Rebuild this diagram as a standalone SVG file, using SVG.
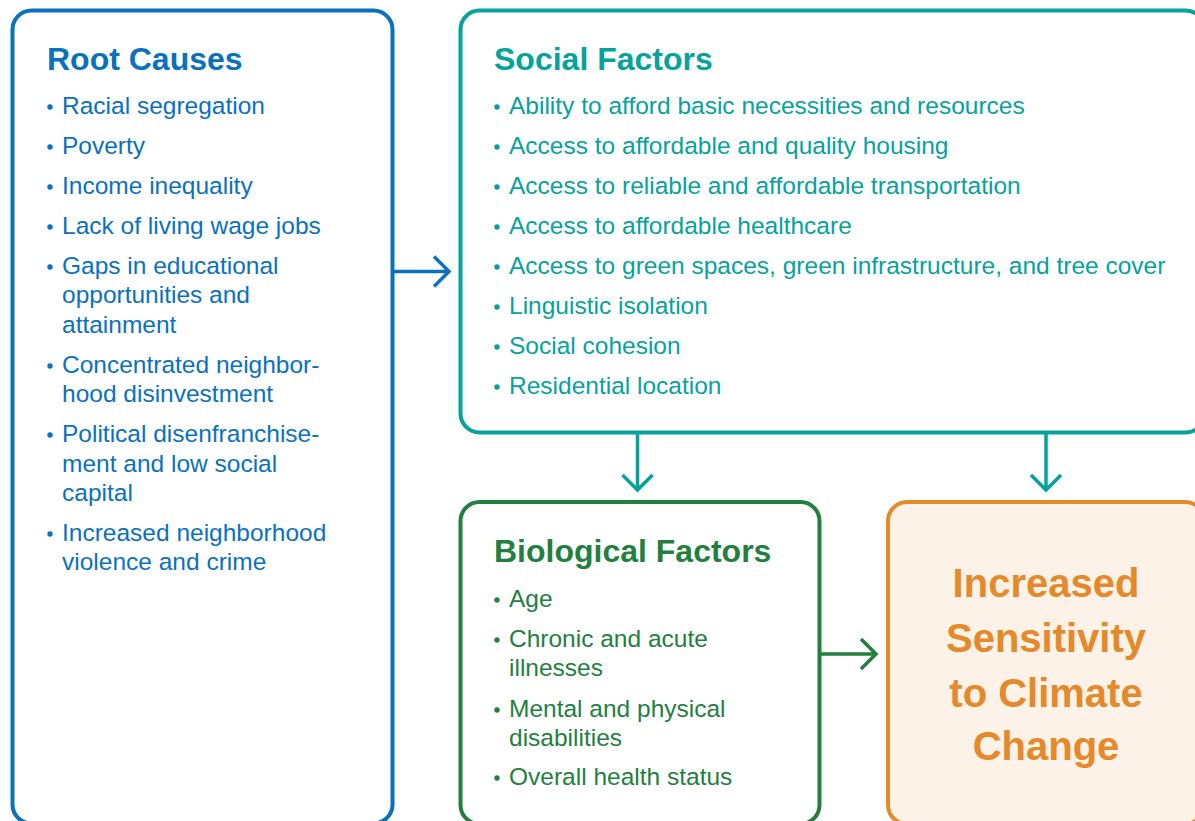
<svg xmlns="http://www.w3.org/2000/svg" width="1195" height="821" viewBox="0 0 1195 821">
<style>
text{font-family:"Liberation Sans",Arial,sans-serif;}
.t{font-size:32px;font-weight:bold;}
.b{font-size:24.5px;}
.box{fill:#fff;stroke-width:4;}
.blue{fill:#0A71BE;}
.teal{fill:#06A29C;}
.green{fill:#237F3E;}
.orange{fill:#E5892B;}
.ar{fill:none;stroke-width:3.5;stroke-linecap:butt;stroke-linejoin:miter;}
</style>
<rect width="1195" height="821" fill="#fff"/>
<g id="root-causes">
<rect class="box" x="12.5" y="10.5" width="380" height="813" rx="19" stroke="#0A71BE"/>
<text class="t blue" x="47" y="70">Root Causes</text>
<g class="blue">
<circle cx="50" cy="107" r="2.7"/><circle cx="50" cy="147" r="2.7"/><circle cx="50" cy="187" r="2.7"/><circle cx="50" cy="227" r="2.7"/><circle cx="50" cy="267" r="2.7"/><circle cx="50" cy="366" r="2.7"/><circle cx="50" cy="435" r="2.7"/><circle cx="50" cy="534" r="2.7"/>
</g>
<g class="b blue">
<text x="62" y="114">Racial segregation</text>
<text x="62" y="154">Poverty</text>
<text x="62" y="194">Income inequality</text>
<text x="62" y="234">Lack of living wage jobs</text>
<text x="62" y="274">Gaps in educational</text>
<text x="62" y="303">opportunities and</text>
<text x="62" y="333">attainment</text>
<text x="62" y="373">Concentrated neighbor-</text>
<text x="62" y="402">hood disinvestment</text>
<text x="62" y="442">Political disenfranchise-</text>
<text x="62" y="472">ment and low social</text>
<text x="62" y="501">capital</text>
<text x="62" y="541">Increased neighborhood</text>
<text x="62" y="570">violence and crime</text>
</g>
</g>
<g id="social-factors">
<rect class="box" x="460.5" y="10.5" width="744" height="422" rx="19" stroke="#06A29C"/>
<text class="t teal" x="494" y="70">Social Factors</text>
<g class="teal">
<circle cx="497" cy="107" r="2.7"/><circle cx="497" cy="147" r="2.7"/><circle cx="497" cy="187" r="2.7"/><circle cx="497" cy="227" r="2.7"/><circle cx="497" cy="267" r="2.7"/><circle cx="497" cy="307" r="2.7"/><circle cx="497" cy="347" r="2.7"/><circle cx="497" cy="387" r="2.7"/>
</g>
<g class="b teal">
<text x="509" y="114">Ability to afford basic necessities and resources</text>
<text x="509" y="154">Access to affordable and quality housing</text>
<text x="509" y="194">Access to reliable and affordable transportation</text>
<text x="509" y="234">Access to affordable healthcare</text>
<text x="509" y="274">Access to green spaces, green infrastructure, and tree cover</text>
<text x="509" y="314">Linguistic isolation</text>
<text x="509" y="354">Social cohesion</text>
<text x="509" y="394">Residential location</text>
</g>
</g>
<g id="biological-factors">
<rect class="box" x="460.5" y="502" width="359" height="322" rx="19" stroke="#237F3E"/>
<text class="t green" x="494" y="562">Biological Factors</text>
<g class="green">
<circle cx="497" cy="600" r="2.7"/><circle cx="497" cy="640" r="2.7"/><circle cx="497" cy="710" r="2.7"/><circle cx="497" cy="778" r="2.7"/>
</g>
<g class="b green">
<text x="509" y="607">Age</text>
<text x="509" y="647">Chronic and acute</text>
<text x="509" y="676">illnesses</text>
<text x="509" y="717">Mental and physical</text>
<text x="509" y="746">disabilities</text>
<text x="509" y="785">Overall health status</text>
</g>
</g>
<g id="increased-sensitivity">
<rect x="888" y="502" width="316" height="322" rx="19" fill="#FCF2E7" stroke="#E5892B" stroke-width="4"/>
<g class="orange" style="font-size:40px;font-weight:bold" text-anchor="middle">
<text x="1046" y="597">Increased</text>
<text x="1046" y="652">Sensitivity</text>
<text x="1046" y="707">to Climate</text>
<text x="1046" y="760">Change</text>
</g>
</g>
<g id="connectors">
<path class="ar" stroke="#0A71BE" d="M394 271.5H449M434 256.5L449 271.5L434 286.5"/>
<path class="ar" stroke="#06A29C" d="M637.5 434V490M622.5 475L637.5 490L652.5 475"/>
<path class="ar" stroke="#06A29C" d="M1046 434V490M1031 475L1046 490L1061 475"/>
<path class="ar" stroke="#237F3E" d="M821 654H876M861 639L876 654L861 669"/>
</g>
</svg>
